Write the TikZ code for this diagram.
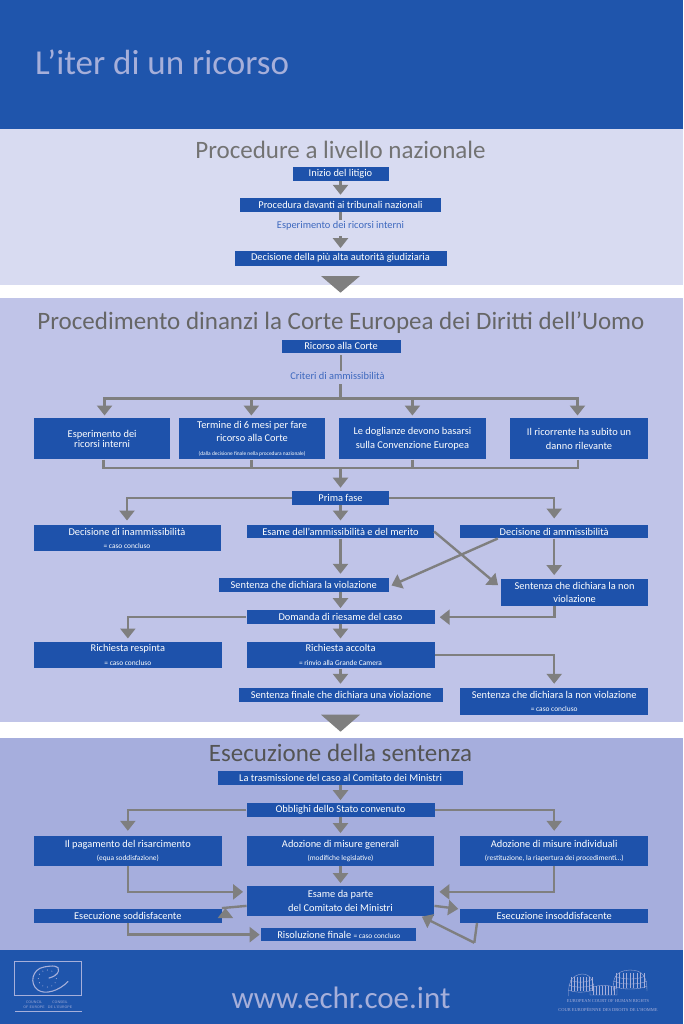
\documentclass[tikz,border=0pt]{standalone}
\usepackage{fontspec}
\setmainfont{Carlito}
\newfontfamily\logofont{Liberation Serif}
\usetikzlibrary{arrows.meta}
\definecolor{headblue}{HTML}{1F55AC}
\definecolor{boxblue}{HTML}{1E52AB}
\definecolor{bandone}{HTML}{D8DBF1}
\definecolor{bandtwo}{HTML}{C0C4E8}
\definecolor{bandthree}{HTML}{A6AEDD}
\definecolor{flowgray}{HTML}{7F7F7F}
\definecolor{headtext}{HTML}{A6AFDA}
\definecolor{labelblue}{HTML}{3D68BE}
\newcommand{\subtext}[1]{{\fontsize{7.4}{9}\selectfont #1}}
\tikzset{
  bluebox/.style={fill=boxblue,text=white,inner sep=0pt,align=center,font=\fontsize{10.4}{13.3}\selectfont},
  flowlabel/.style={text=labelblue,inner sep=0pt,font=\fontsize{10.4}{13}\selectfont},
  bandtitle/.style={inner sep=0pt,font=\fontsize{25}{30}\selectfont},
  conn/.style={draw=flowgray,line width=2.4pt},
  flow/.style={conn,-{Triangle[width=15pt,length=10pt]}},
  bigtip/.style={fill=flowgray},
  logoline/.style={draw=headtext,line width=0.35pt}
}
\begin{document}
\begin{tikzpicture}[x=1pt,y=-1pt]
\useasboundingbox (0,0) rectangle (683,1024);
\fill[headblue] (0,0) rectangle (683,129);
\fill[bandone] (0,129) rectangle (683,285);
\fill[white] (0,285) rectangle (683,298);
\fill[bandtwo] (0,298) rectangle (683,722);
\fill[white] (0,722) rectangle (683,738);
\fill[bandthree] (0,738) rectangle (683,950);
\fill[headblue] (0,950) rectangle (683,1024);
\fill[bigtip] (321,276)--(360,276)--(340.5,292.7)--cycle;
\fill[bigtip] (321,714.7)--(360,714.7)--(340.5,731.7)--cycle;
\node[inner sep=0pt,anchor=west,text=headtext,font=\fontsize{35}{40}\selectfont] (pagetitle) at (35,62) {L’iter di un ricorso};
\node[bandtitle,text=black!55] (titlenaz) at (340.5,150) {Procedure a livello nazionale};
\node[bandtitle,text=black!60] (titlecorte) at (341,323) {Procedimento dinanzi la Corte Europea dei Diritti dell’Uomo};
\node[bandtitle,text=black!67] (titleesec) at (340.5,753) {Esecuzione della sentenza};
\node[bluebox,minimum width=96pt,minimum height=14pt] (inizio) at (340.5,174) {Inizio del litigio};
\node[bluebox,minimum width=201pt,minimum height=14pt] (davanti) at (340.5,205) {Procedura davanti ai tribunali nazionali};
\node[flowlabel] (esperimento) at (340.5,225.5) {Esperimento dei ricorsi interni};
\node[bluebox,minimum width=212pt,minimum height=15pt] (altaaut) at (340.5,258.2) {Decisione della più alta autorità giudiziaria};
\node[bluebox,minimum width=119pt,minimum height=12.7pt] (ricorso) at (341,346.3) {Ricorso alla Corte};
\node[flowlabel] (criteri) at (337.5,375.5) {Criteri di ammissibilità};
\coordinate (bustop) at (340.5,398.3);
\coordinate (busbot) at (340.5,468);
\node[bluebox,minimum width=136.3pt,minimum height=41pt,font=\fontsize{10.4}{10.3}\selectfont] (critone) at (102.15,438.8) {Esperimento dei\\ricorsi interni};
\node[bluebox,minimum width=146.3pt,minimum height=41pt] (crittwo) at (252.15,438.8) {Termine di 6 mesi per fare\\ricorso alla Corte\\{\fontsize{5.4}{9}\selectfont (dalla decisione finale nella procedura nazionale)}};
\node[bluebox,minimum width=147.2pt,minimum height=41pt] (critthree) at (412.4,438.8) {Le doglianze devono basarsi\\sulla Convenzione Europea};
\node[bluebox,minimum width=138pt,minimum height=41pt] (critfour) at (579,438.8) {Il ricorrente ha subito un\\danno rilevante};
\node[bluebox,minimum width=96.5pt,minimum height=13.7pt] (primafase) at (340.5,498.2) {Prima fase};
\node[bluebox,minimum width=187pt,minimum height=26.3pt] (inamm) at (127,538.2) {Decisione di inammissibilità\\\subtext{= caso concluso}};
\node[bluebox,minimum width=186.8pt,minimum height=13.6pt] (esamemerito) at (340.5,531.5) {Esame dell’ammissibilità e del merito};
\node[bluebox,minimum width=187.6pt,minimum height=13.6pt] (amm) at (554.2,531.5) {Decisione di ammissibilità};
\node[bluebox,minimum width=169.5pt,minimum height=14pt] (sentviol) at (303.75,584.7) {Sentenza che dichiara la violazione};
\node[bluebox,minimum width=146.7pt,minimum height=27pt] (sentnonviol) at (574.65,592.5) {Sentenza che dichiara la non\\violazione};
\node[bluebox,minimum width=188pt,minimum height=13.7pt] (riesame) at (340.5,617.2) {Domanda di riesame del caso};
\node[bluebox,minimum width=187.7pt,minimum height=26.6pt] (respinta) at (127.85,655) {Richiesta respinta\\\subtext{= caso concluso}};
\node[bluebox,minimum width=188pt,minimum height=26.6pt] (accolta) at (340.5,655) {Richiesta accolta\\\subtext{= rinvio alla Grande Camera}};
\node[bluebox,minimum width=204.7pt,minimum height=14pt] (finaleviol) at (341,694.7) {Sentenza finale che dichiara una violazione};
\node[bluebox,minimum width=187.6pt,minimum height=27pt] (finalenon) at (554.2,701.2) {Sentenza che dichiara la non violazione\\\subtext{= caso concluso}};
\node[bluebox,minimum width=245.6pt,minimum height=14pt] (trasmissione) at (340.6,777.7) {La trasmissione del caso al Comitato dei Ministri};
\node[bluebox,minimum width=188pt,minimum height=13.7pt] (obblighi) at (340.5,810.2) {Obblighi dello Stato convenuto};
\node[bluebox,minimum width=187.7pt,minimum height=30.3pt] (pagamento) at (127.85,850.85) {Il pagamento del risarcimento\\\subtext{(equa soddisfazione)}};
\node[bluebox,minimum width=187.5pt,minimum height=30.3pt] (generali) at (340.5,850.85) {Adozione di misure generali\\\subtext{(modifiche legislative)}};
\node[bluebox,minimum width=187.6pt,minimum height=30.3pt] (individuali) at (554.2,850.85) {Adozione di misure individuali\\\subtext{(restituzione, la riapertura dei procedimenti…)}};
\node[bluebox,minimum width=187.5pt,minimum height=29.7pt] (comitato) at (340.5,900.85) {Esame da parte\\del Comitato dei Ministri};
\node[bluebox,minimum width=187.7pt,minimum height=13.4pt] (soddisf) at (127.85,916) {Esecuzione soddisfacente};
\node[bluebox,minimum width=187.6pt,minimum height=13.4pt] (insoddisf) at (554.2,916) {Esecuzione insoddisfacente};
\node[bluebox,minimum width=155pt,minimum height=13.3pt] (risoluzione) at (338.85,934.65) {Risoluzione finale \subtext{= caso concluso}};
\coordinate (backcorner) at (474.3,942.7);
\draw[flow,shorten >=3pt] (inizio) -- (davanti);
\draw[conn,shorten >=1pt] (davanti) -- (esperimento);
\draw[flow,shorten <=6pt,shorten >=2.4pt] (esperimento) -- (altaaut);
\draw[conn,shorten <=2.4pt,shorten >=1pt] (ricorso.south) -- (ricorso.south |- criteri.north);
\draw[conn,shorten <=5pt] (bustop |- criteri.south) -- (bustop);
\draw[flow,shorten >=2.6pt] (bustop) -| ([xshift=2.4pt]critone.north);
\draw[flow,shorten >=2.6pt] (bustop) -| ([xshift=-0.8pt]crittwo.north);
\draw[flow,shorten >=2.6pt] (bustop) -| (critthree.north);
\draw[flow,shorten >=2.6pt] (bustop) -| ([xshift=-1.5pt]critfour.north);
\draw[conn] ([xshift=1.5pt]critone.south) |- (busbot);
\draw[conn] ([xshift=-0.8pt]crittwo.south) |- (busbot);
\draw[conn] (critthree.south) |- (busbot);
\draw[conn] ([xshift=-1pt]critfour.south) |- (busbot);
\draw[flow,shorten >=3.5pt] (busbot) -- (primafase);
\draw[flow,shorten >=4.3pt] (primafase.west) -| (inamm.north);
\draw[flow,shorten >=4pt] (primafase) -- (esamemerito);
\draw[flow,shorten >=6pt] (primafase.east) -| (amm.north);
\draw[flow,shorten >=3.7pt] (esamemerito.south) -- (esamemerito.south |- sentviol.north);
\draw[flow,shorten >=3.7pt] (amm.south) -- (amm.south |- sentnonviol.north);
\draw[flow,shorten >=3pt] ([xshift=-56.4pt]amm.south) -- ([yshift=-2pt]sentviol.east);
\draw[flow,shorten >=4pt] (esamemerito.east) -- ([yshift=-9pt]sentnonviol.north west);
\draw[flow,shorten >=2pt] (esamemerito.south |- sentviol.south) -- (riesame.north);
\draw[flow,shorten >=5pt] ([xshift=-20.3pt]sentnonviol.south) |- (riesame.east);
\draw[flow,shorten >=3pt] (riesame.west) -| (respinta.north);
\draw[flow,shorten >=3pt] (riesame) -- (accolta);
\draw[flow,shorten >=3.7pt] (accolta.south) -- (accolta.south |- finaleviol.north);
\draw[flow,shorten >=3.7pt] (accolta.east) -| (finalenon.north);
\draw[flow,shorten >=3pt] (trasmissione.south -| obblighi) -- (obblighi);
\draw[flow,shorten >=4.7pt] (obblighi.west) -| (pagamento.north);
\draw[flow,shorten >=2.4pt] (obblighi) -- (generali);
\draw[flow,shorten >=4.7pt] (obblighi.east) -| (individuali.north);
\draw[flow,shorten >=2.7pt] (generali) -- (comitato);
\draw[flow,shorten >=3.5pt] (pagamento.south) |- ([yshift=9pt]comitato.west);
\draw[flow,shorten >=5pt] (individuali.south) |- ([yshift=9pt]comitato.east);
\draw[flow,shorten >=0pt] ([yshift=-5pt]comitato.west) -- ([yshift=1pt]soddisf.north east) ++ (3.5,0);
\draw[flow,shorten >=2pt] ([yshift=-5pt]comitato.east) -- (insoddisf.north west);
\draw[flow,shorten >=1.5pt] (soddisf.south) |- (risoluzione.west);
\draw[conn,shorten >=0pt] ([xshift=-77.2pt]insoddisf.south) -- (backcorner);
\draw[flow,shorten >=1.6pt] (backcorner) -- ([xshift=-14pt]comitato.south east);
\node[inner sep=0pt,text=headtext,font=\fontsize{31}{36}\selectfont] (sitoweb) at (341,998) {www.echr.coe.int};
\draw[logoline,line width=0.8pt] (14.3,961.5) rectangle (81.7,995);
\draw[logoline,line width=1pt] (15,1011) -- (81.5,1011);
\draw[headtext,line width=1.1pt,line cap=round] (68,981.5) .. controls (59,991) and (45,995) .. (38,990) .. controls (29,984) and (32,969) .. (44,967) .. controls (52,965.5) and (60,965) .. (58.5,971) .. controls (57.5,975) and (53,977) .. (49,978);
\foreach \ang in {0,30,...,330}
  \fill[headtext] ({47.3+9*cos(\ang)},{978.5+8.5*sin(\ang)}) circle (0.55pt);
\node[inner sep=0pt,align=center,text=headtext,font=\sffamily\fontsize{3.6}{5}\selectfont] (coeen) at (34,1004.7) {COUNCIL\\OF EUROPE};
\node[inner sep=0pt,align=center,text=headtext,font=\sffamily\fontsize{3.6}{5}\selectfont] (coefr) at (60,1004.7) {CONSEIL\\DE L’EUROPE};
\begin{scope}[logoline]
\draw (568.5,996) .. controls (568,982) and (572,975) .. (582,974) .. controls (590,974) and (594,980) .. (594,992);
\draw (568.5,990) .. controls (575,993) and (588,993) .. (594,989);
\draw (568.7,985) .. controls (575,988) and (588,988) .. (594,984);
\draw (570,980) .. controls (576,983) and (587,983) .. (592.5,979);
\foreach \xx in {571,574,...,592}
  \draw (\xx,977) -- (\xx,991);
\draw (613.5,991) .. controls (612,978) and (616,970.5) .. (630,970) .. controls (643,970) and (647,977) .. (647,991);
\draw (613.5,986) .. controls (620,990) and (640,990) .. (647,986);
\draw (613.7,981) .. controls (620,985) and (640,985) .. (647,981);
\draw (615,976) .. controls (622,980) and (638,980) .. (645,976);
\foreach \xx in {616,619.5,...,645}
  \draw (\xx,973) -- (\xx,988);
\draw (590,989) .. controls (597,984) and (610,984) .. (617,989) -- (617,995) -- (590,995) -- cycle;
\foreach \xx in {593,596,...,615}
  \draw (\xx,986) -- (\xx,995);
\end{scope}
\node[inner sep=0pt,text=headtext,font=\logofont\fontsize{4.5}{6}\selectfont] (courten) at (608,1000.7) {EUROPEAN COURT OF HUMAN RIGHTS};
\node[inner sep=0pt,text=headtext,font=\logofont\fontsize{4.5}{6}\selectfont] (courtfr) at (608,1009.3) {COUR EUROPÉENNE DES DROITS DE L’HOMME};
\end{tikzpicture}
\end{document}
